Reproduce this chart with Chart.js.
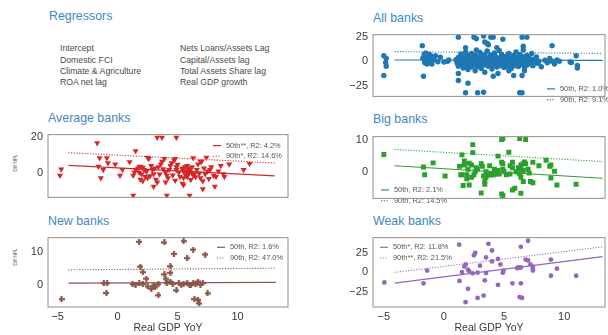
<!DOCTYPE html>
<html>
<head>
<meta charset="utf-8">
<script src="https://cdn.jsdelivr.net/npm/chart.js@4.4.0/dist/chart.umd.min.js"></script>
<style>
  html, body { margin: 0; padding: 0; background: #fff; }
  body { width: 608px; height: 335px; position: relative; overflow: hidden;
         font-family: "Liberation Sans", Arial, sans-serif; }
  canvas { position: absolute; }
  .title { position: absolute; color: #3f88c5; font-size: 12.4px; line-height: 1; white-space: nowrap; }
  .reg { position: absolute; color: #4a4a4a; font-size: 8.7px; line-height: 11.2px; white-space: nowrap; }
  .ylab { position: absolute; color: #555; font-size: 4.6px; white-space: nowrap;
          transform: translate(-50%, -50%) rotate(-90deg); }
</style>
</head>
<body>
<div class="title" style="left:49px; top:10px;">Regressors</div>
<div class="reg" style="left:60px; top:43.4px;">Intercept<br>Domestic FCI<br>Climate &amp; Agriculture<br>ROA net lag</div>
<div class="reg" style="left:180px; top:43.4px;">Nets Loans/Assets Lag<br>Capital/Assets lag<br>Total Assets Share lag<br>Real GDP growth</div>

<div class="title" style="left:373px; top:11.5px;">All banks</div>
<div class="title" style="left:48px; top:112px;">Average banks</div>
<div class="title" style="left:373px; top:112.5px;">Big banks</div>
<div class="title" style="left:48px; top:214.5px;">New banks</div>
<div class="title" style="left:373px; top:214.5px;">Weak banks</div>

<div class="ylab" style="left:15px; top:163px;">Diff NPL</div>
<div class="ylab" style="left:15px; top:257px;">Diff NPL</div>

<script>
// ---- tick values ----
const gdpTicks = [-5, 0, 5, 10];
const allTicks = [-25, 0, 25];
const avgTicks = [0, 20];
const bigTicks = [0, 10];
const newTicks = [0, 10];
const weakTicks = [-25, 0, 25];

// ---- scatter values: [real GDP YoY, diff NPL] ----
const allBanks = [
  [-5.0,5.6],[-4.8,2.8],[-4.85,-1.4],[-4.8,-5.1],[-5.0,-14.6],
  [-1.8,16.0],[-1.7,-15.4],[-1.65,7.0],[-1.5,4.2],[-1.4,1.4],[-1.3,0],[-1.2,2.8],[-1.2,-1.4],[-1.1,5.6],[-1.0,1.4],
  [-1.6,-0.8],[-1.4,-2.8],[-0.8,1.4],[-1.0,-2.8],[-1.2,7.0],[-0.3,4.2],[0.0,-0.8],[0.3,0],[0.4,1.4],[-0.7,5.6],
  [-1.5,8.4],[-1.75,3.0],[-1.55,-1.8],[-0.5,-0.5],
  [1.2,24.7],[2.5,24.7],[2.7,23.0],[3.3,25.8],[3.9,24.7],[4.1,24.7],[3.4,19.7],[3.6,18.3],[3.7,16.9],[4.9,22.5],
  [4.4,14.0],[6.5,24.7],[6.9,24.7],[6.6,15.4],[9.0,16.0],[1.8,14.0],
  [1.2,-12.6],[1.2,-19.7],[2.0,-22.5],[1.8,-32.3],[2.8,-32.3],[3.3,-31.7],[6.3,-32.3],[6.5,-32.3],[2.6,-9.8],
  [3.4,-11.2],[4.1,-15.4],[4.5,-12.6],[5.4,-9.8],[5.8,-14.6],[6.5,-14.6],[6.7,-9.8],
  [9.0,0],[9.4,1.4],[8.8,2.8],[9.2,-2.8],[8.1,-5.6],[7.7,0],[7.4,-4.2],[10.6,-1.4],[11.0,5.6],[11.1,-4.2],
  [11.1,-7.0],[10.5,-0.8],[9.6,0],[8.4,1.0],[8.6,-1.5],
  [1.0,1.5],[1.1,-2.0],[1.2,4.0],[1.2,-5.0],[1.3,0.5],[1.4,7.5],[1.4,-1.0],[1.5,2.5],[1.5,-3.5],[1.6,-7.0],
  [1.6,5.0],[1.7,0.0],[1.7,-2.5],[1.8,3.0],[1.8,9.5],[1.9,-4.5],[1.9,1.0],[2.0,6.0],[2.0,-1.5],[2.0,-8.5],
  [2.1,2.0],[2.1,-3.0],[2.2,4.5],[2.2,0.5],[2.3,-6.0],[2.3,8.0],[2.4,-1.0],[2.4,3.0],[2.5,1.0],[2.5,-4.0],
  [2.6,6.5],[2.6,-2.0],[2.7,0.0],[2.7,11.5],[2.8,2.5],[2.8,-5.5],[2.9,-1.5],[2.9,4.0],[3.0,0.5],[3.0,-3.0],[3.0,9.0],
  [3.1,1.5],[3.1,-7.5],[3.2,5.5],[3.2,-0.5],[3.3,2.5],[3.3,-4.0],[3.4,7.0],[3.4,0.0],[3.5,-2.0],[3.5,3.5],
  [3.6,-1.0],[3.6,10.5],[3.7,1.0],[3.7,-5.0],[3.8,4.5],[3.8,-2.5],[3.9,0.5],[3.9,6.5],[4.0,-1.5],[4.0,2.0],[4.0,-8.0],
  [4.1,3.0],[4.1,-3.5],[4.2,0.0],[4.2,8.5],[4.3,-1.0],[4.3,5.0],[4.4,1.5],[4.4,-6.0],[4.5,2.5],[4.5,-2.0],
  [4.6,11.0],[4.6,0.5],[4.7,-4.5],[4.7,4.0],[4.8,-0.5],[4.8,7.0],[4.9,1.0],[4.9,-2.5],[5.0,3.5],[5.0,-6.5],
  [5.1,0.0],[5.1,-3.0],[5.2,5.5],[5.2,-1.0],[5.3,2.0],[5.3,-5.0],[5.4,8.0],[5.4,-0.5],[5.5,1.0],[5.5,-2.0],
  [5.6,3.5],[5.6,-7.5],[5.7,0.5],[5.7,-3.5],[5.8,6.0],[5.8,-1.5],[5.9,2.0],[5.9,-4.5],[6.0,0.0],[6.0,9.5],[6.0,-2.5],
  [6.1,4.0],[6.1,-1.0],[6.2,1.5],[6.2,-5.5],[6.3,7.0],[6.3,-0.5],[6.4,2.5],[6.4,-3.0],[6.5,0.0],[6.5,5.0],
  [6.6,-2.0],[6.6,11.5],[6.7,1.0],[6.7,-6.5],[6.8,3.0],[6.8,-1.0],[6.9,-4.0],[6.9,6.0],[7.0,0.5],[7.0,-2.5],
  [7.1,3.5],[7.2,-1.5],[7.3,1.0],[7.3,8.0],[7.4,-4.5],[7.5,2.0],[7.6,-0.5],[7.7,4.5],[7.8,-2.0],[7.9,0.0],
  [2.3,1.5],[2.5,-0.5],[2.8,0.8],[3.2,-1.8],[3.5,0.8],[3.7,2.8],[3.9,-3.5],[5.3,0.2],[5.6,-0.8],[5.9,0.8],
  [6.2,-1.8],[6.4,0.6],[6.6,2.2],[6.8,-2.8],[5.4,3.0],[6.0,1.8]
];

const avgBanks = [
  [-4.7,1.9],[-4.8,-1.6],[-1.7,16.6],[-1.5,8.2],[-0.9,8.2],[-1.6,3.4],[-1.2,1.6],[-0.8,5.4],[-0.2,4.7],[-1.4,-3.1],
  [0.2,-1.6],[0.4,1.6],[1.0,5.9],[1.5,12.1],[3.3,19.8],[3.7,19.8],[4.9,19.8],[1.3,-12.9],[4.1,-12.9],[6.0,-12.9],
  [1.3,-1.6],[1.4,0],[1.5,1.6],[1.7,2.3],[1.8,3.1],[1.9,3.4],[2.1,2.8],[2.2,1.6],[1.8,0],[1.9,-3.9],[2.1,-4.7],
  [2.3,-2.3],[2.5,8.5],[2.6,7.8],[2.8,3.9],[2.9,1.6],[3.0,-0.8],[3.2,-3.9],[3.3,-5.4],[3.4,3.1],[3.6,4.7],[3.7,6.2],
  [3.9,7.8],[4.0,0],[4.1,-1.6],[4.3,1.6],[4.4,3.9],[4.5,5.4],[4.7,7.0],[4.8,7.8],[4.9,1.6],[5.1,0],[5.2,-2.3],
  [5.4,-6.2],[5.5,-3.1],[5.6,3.1],[5.8,3.9],[5.9,1.6],[6.0,0.8],[6.2,0],[6.3,-1.6],[6.4,-0.8],[6.6,1.6],[6.7,4.7],
  [6.9,-3.1],[7.0,6.2],[7.1,-4.7],[7.3,-0.8],[7.4,8.5],[7.5,0.8],[7.7,1.6],[7.8,3.1],[8.0,-1.6],[8.1,-7.8],[8.2,-2.3],
  [8.4,0.8],[8.6,3.9],[8.8,-0.8],[9.3,4.7],[10.5,1.6],[11.0,5.0],[8.9,-2.3],[7.1,-9.3],[5.5,-7.0],[3.0,-7.8],
  [2.5,-3.1],[6.3,8.2],[6.9,6.2],[4.9,3.1],[5.4,2.3],[5.6,0.8],[5.8,0],[5.9,-0.8],[6.0,2.3],[6.2,3.1],[5.4,1.9],
  [5.5,0.3],[5.7,-1.6],[5.8,-2.3],[2.0,-1.0],[2.4,0.5],[2.7,-2.0],[3.5,-1.0],[3.8,2.0],[4.2,-3.0],[4.6,-1.5],
  [4.8,-4.5],[5.0,4.5],[6.5,-2.5],[6.8,-0.5],[7.2,2.5],[7.6,-3.5],[6.1,-4.0],[3.1,2.5],[4.0,-5.5]
];

const bigBanks = [
  [-5.0,5.5],[-1.7,1.6],[-1.6,-0.8],[-0.9,2.9],[0.1,-1.2],[2.4,8.6],[2.4,6.1],[1.5,5.4],[4.8,10.2],[4.9,10.5],
  [6.3,10.5],[6.8,10.2],[4.5,5.0],[5.4,6.2],[3.1,-6.5],[4.8,-6.8],[4.9,-7.3],[6.4,-6.6],[5.7,-5.6],[5.9,-5.0],
  [11.0,-3.8],[9.4,-4.0],[8.9,-1.8],[9.2,0.3],[8.9,2.2],[8.8,1.8],[8.5,3.7],[7.9,2.0],[7.4,3.1],[6.8,2.6],
  [6.7,3.2],[6.6,2.6],[7.0,0.9],[7.1,-0.3],[7.2,-2.9],[7.4,-3.3],[6.4,0.9],[6.2,1.4],[6.0,0.1],[6.3,-0.6],
  [6.4,-1.6],[6.6,-2.9],[5.7,1.4],[5.5,-0.6],[5.2,-0.8],[5.0,0.1],[4.9,2.6],[4.8,3.1],[4.5,0.5],[4.4,-0.6],
  [4.2,0.1],[4.1,-0.8],[3.9,-0.9],[3.8,-0.3],[3.7,-0.8],[3.5,-1.6],[3.4,-3.8],[3.4,-2.9],[3.3,-1.2],[3.1,2.6],
  [2.8,0.9],[2.7,1.4],[2.6,0.1],[2.5,-0.8],[2.3,2.2],[2.1,2.8],[2.0,0.9],[1.9,-0.8],[1.7,3.5],[1.7,2.2],
  [1.5,-0.8],[1.4,-0.8],[1.9,-2.1],[1.6,-4.2],[2.1,-4.0],[2.3,-1.6],[3.2,1.8],[3.8,2.0],[4.2,0.9],[4.6,-0.6],
  [1.3,1.8],[3.5,0.1],[4.9,0.9],[5.5,2.0],[5.7,3.1],[6.4,2.2],[6.6,0.5]
];

const newBanks = [
  [-4.67,-4.5],[-1.15,0.4],[-0.87,0.4],[-0.93,-2.6],[1.8,13.1],[5.5,13.3],[4.7,9.4],[6.3,10.7],[5.8,8.1],[7.3,9.2],
  [3.9,12.9],[1.9,5.5],[2.1,3.8],[2.4,1.8],[4.4,5.6],[3.9,3.1],[4.0,1.8],[4.4,3.6],[1.25,0.1],[1.5,0],
  [1.8,0.4],[2.1,0.1],[2.5,-0.6],[2.8,-1.3],[3.1,-0.9],[3.4,0.1],[3.4,-3.3],[4.1,0.4],[4.4,0.9],[4.9,-1.8],
  [5.1,0.4],[5.5,0.1],[5.8,0.4],[6.1,0],[6.5,0.1],[6.7,0.9],[6.9,0],[7.1,0.4],[6.4,-4.5],[6.7,-4.7],
  [6.8,-5.8],[7.5,-2.7],[5.3,0],[6.3,0.4],[3.0,-0.3],[4.6,0.2],[6.0,-0.2]
];

const weakBanks = [
  [-4.96,-12.8],[-1.7,-14.0],[-1.4,2.3],[1.27,35.3],[1.3,-10.9],[1.5,0.4],[1.7,7.4],[1.8,10.1],[2.0,3.5],[2.1,1.6],
  [2.0,-20.9],[1.8,-38.0],[2.4,-1.2],[2.5,21.7],[2.6,24.8],[2.8,-0.4],[3.0,8.5],[2.8,-32.6],[3.3,-29.5],[3.4,-10.1],
  [3.5,-0.8],[3.5,19.0],[3.7,36.4],[4.0,27.9],[4.0,14.0],[4.5,17.1],[4.5,-15.9],[4.7,10.1],[4.9,-0.4],[4.96,2.3],
  [5.7,-14.0],[6.1,5.4],[6.2,6.2],[6.4,6.2],[6.4,32.6],[6.4,-14.0],[6.3,-31.4],[6.5,-32.6],[6.8,16.3],[7.0,15.1],
  [7.0,40.3],[7.2,10.1],[7.4,7.4],[7.4,4.7],[7.4,2.3],[8.9,16.3],[8.9,-4.3],[9.4,4.7],[11.0,-4.3]
];

// ---- quantile regression fits (50th solid, 90th dotted): end points ----
const allFit50 = [[-4.1, 1.3], [13.2, 0.9]];
const allFit90 = [[-4.1, 9.9], [13.2, 8.0]];
const avgFit50 = [[-4.1, 4.0], [13.1, -1.9]];
const avgFit90 = [[-4.1, 11.2], [13.1, 5.4]];
const bigFit50 = [[-4.1, 2.0], [13.2, -1.9]];
const bigFit90 = [[-4.1, 7.1], [13.2, 3.3]];
const newFit50 = [[-4.1, 0.4], [13.2, 0.65]];
const newFit90 = [[-4.1, 4.5], [13.2, 5.0]];
const weakFit50 = [[-4.1, -13.8], [13.2, 20.0]];
const weakFit90 = [[-4.1, 0.0], [13.2, 32.5]];

const FONT = '"Liberation Sans", Arial, sans-serif';
const TICK_COLOR = '#3a3a3a';

function fmt(v) { return v < 0 ? '\u2212' + Math.abs(v) : String(v); }
function toXY(arr) { return arr.map(p => ({ x: p[0], y: p[1] })); }

// filled plus marker
function plusMarker(color, s, t) {
  const c = document.createElement('canvas');
  c.width = s; c.height = s;
  const g = c.getContext('2d');
  g.fillStyle = color;
  g.fillRect((s - t) / 2, 0, t, s);
  g.fillRect(0, (s - t) / 2, s, t);
  return c;
}

// box around the plotting area
const framePlugin = {
  id: 'frame',
  afterDatasetsDraw(chart) {
    const { ctx, chartArea: a } = chart;
    ctx.save();
    ctx.strokeStyle = '#9a9a9a';
    ctx.lineWidth = 1.1;
    ctx.strokeRect(a.left, a.top, a.right - a.left, a.bottom - a.top);
    ctx.restore();
  }
};

// compact legend for the two fitted lines
const fitLegendPlugin = {
  id: 'fitLegend',
  beforeDatasetsDraw(chart, args, o) {
    const { ctx, chartArea: a } = chart;
    ctx.save();
    ctx.font = '7.4px ' + FONT;
    ctx.fillStyle = '#555';
    ctx.textBaseline = 'middle';
    chart.data.datasets.filter(d => d.fitLabel).forEach((d, i) => {
      const y = a.top + o.y + i * o.gap;
      const x = a.left + o.x;
      ctx.strokeStyle = d.borderColor;
      ctx.lineWidth = d.borderWidth;
      ctx.setLineDash(d.borderDash || []);
      ctx.beginPath();
      ctx.moveTo(x, y); ctx.lineTo(x + 8, y);
      ctx.stroke();
      ctx.setLineDash([]);
      ctx.fillText(d.fitLabel, x + 13, y);
    });
    ctx.restore();
  }
};

function panel(p) {
  const yAxisW = 40, padT = 6, padR = 2;
  const xAxisH = p.showX ? 28 : 0;
  const padB = p.showX ? 0 : 4;
  const plotW = p.right - p.left, plotH = p.bottom - p.top;
  const cv = document.createElement('canvas');
  cv.width = yAxisW + plotW + padR;
  cv.height = padT + plotH + xAxisH + padB;
  cv.style.left = (p.left - yAxisW) + 'px';
  cv.style.top = (p.top - padT) + 'px';
  document.body.appendChild(cv);

  new Chart(cv, {
    type: 'scatter',
    data: {
      datasets: [
        {
          data: toXY(p.points), order: 2,
          pointStyle: p.pointStyle, pointRadius: p.radius, rotation: p.rotation || 0,
          backgroundColor: p.color, borderColor: p.color, borderWidth: 0, showLine: false
        },
        {
          data: toXY(p.fit50), order: 1, showLine: true, pointRadius: 0,
          borderColor: p.color, borderWidth: 1.2, fitLabel: p.labels[0]
        },
        {
          data: toXY(p.fit90), order: 1, showLine: true, pointRadius: 0,
          borderColor: p.color, borderWidth: 1.1, borderDash: [1.1, 1.6], fitLabel: p.labels[1]
        }
      ]
    },
    options: {
      responsive: false, animation: false, devicePixelRatio: 1,
      layout: { padding: { top: padT, right: padR, bottom: padB, left: 0 } },
      plugins: {
        legend: { display: false }, tooltip: { enabled: false },
        fitLegend: p.legend
      },
      scales: {
        x: {
          type: 'linear', min: p.xmin, max: p.xmax, display: p.showX,
          grid: { display: false, drawTicks: false }, border: { display: false },
          afterBuildTicks: s => { s.ticks = gdpTicks.map(v => ({ value: v })); },
          afterFit: s => { s.height = xAxisH; },
          ticks: { font: { family: FONT, size: 11 }, color: TICK_COLOR, padding: 3,
                   maxRotation: 0, autoSkip: false, callback: v => fmt(v) },
          title: { display: true, text: 'Real GDP YoY', color: TICK_COLOR,
                   font: { family: FONT, size: 10.5 }, padding: { top: 0, bottom: 1 } }
        },
        y: {
          type: 'linear', min: p.ymin, max: p.ymax,
          grid: { display: false, drawTicks: false }, border: { display: false },
          afterBuildTicks: s => { s.ticks = p.yTicks.map(v => ({ value: v })); },
          afterFit: s => { s.width = yAxisW; },
          ticks: { font: { family: FONT, size: 11 }, color: TICK_COLOR, padding: 5,
                   autoSkip: false, callback: v => fmt(v) }
        }
      }
    },
    plugins: [framePlugin, fitLegendPlugin]
  });
}

const LEFT = { left: 48, right: 290, xmin: -5.8, xmax: 14.2 };
const RIGHT = { left: 373, right: 607, xmin: -5.9, xmax: 13.4 };

panel(Object.assign({}, RIGHT, {
  top: 29, bottom: 104, ymin: -36.0, ymax: 27.3, yTicks: allTicks, showX: false,
  points: allBanks, pointStyle: 'circle', radius: 2.7, color: '#1f77b4',
  fit50: allFit50, fit90: allFit90,
  labels: ['50th, R2: 1.0%', '90th, R2: 9.1%'],
  legend: { x: 174, y: 54.3, gap: 10.7 }
}));

panel(Object.assign({}, LEFT, {
  top: 129, bottom: 205, ymin: -14.0, ymax: 21.4, yTicks: avgTicks, showX: false,
  points: avgBanks, pointStyle: 'triangle', rotation: 180, radius: 3.5, color: '#d62728',
  fit50: avgFit50, fit90: avgFit90,
  labels: ['50th**, R2: 4.2%', '90th*, R2: 14.6%'],
  legend: { x: 165, y: 11, gap: 10.7 }
}));

panel(Object.assign({}, RIGHT, {
  top: 131, bottom: 206, ymin: -8.2, ymax: 11.1, yTicks: bigTicks, showX: false,
  points: bigBanks, pointStyle: 'rect', radius: 3.5, color: '#2ca02c',
  fit50: bigFit50, fit90: bigFit90,
  labels: ['50th, R2: 2.1%', '90th, R2: 14.5%'],
  legend: { x: 8, y: 53.3, gap: 10.7 }
}));

panel(Object.assign({}, LEFT, {
  top: 232, bottom: 307, ymin: -6.9, ymax: 14.4, yTicks: newTicks, showX: true,
  points: newBanks, pointStyle: plusMarker('#8c564b', 6, 2.2), radius: 3, color: '#8c564b',
  fit50: newFit50, fit90: newFit90,
  labels: ['50th, R2: 1.6%', '90th, R2: 47.0%'],
  legend: { x: 169, y: 9.7, gap: 10.7 }
}));

panel(Object.assign({}, RIGHT, {
  top: 232, bottom: 307, ymin: -44.1, ymax: 44.3, yTicks: weakTicks, showX: true,
  points: weakBanks, pointStyle: 'circle', radius: 2.4, color: '#9467bd',
  fit50: weakFit50, fit90: weakFit90,
  labels: ['50th*, R2: 11.8%', '90th**, R2: 21.5%'],
  legend: { x: 7, y: 9.7, gap: 10.7 }
}));
</script>
</body>
</html>
